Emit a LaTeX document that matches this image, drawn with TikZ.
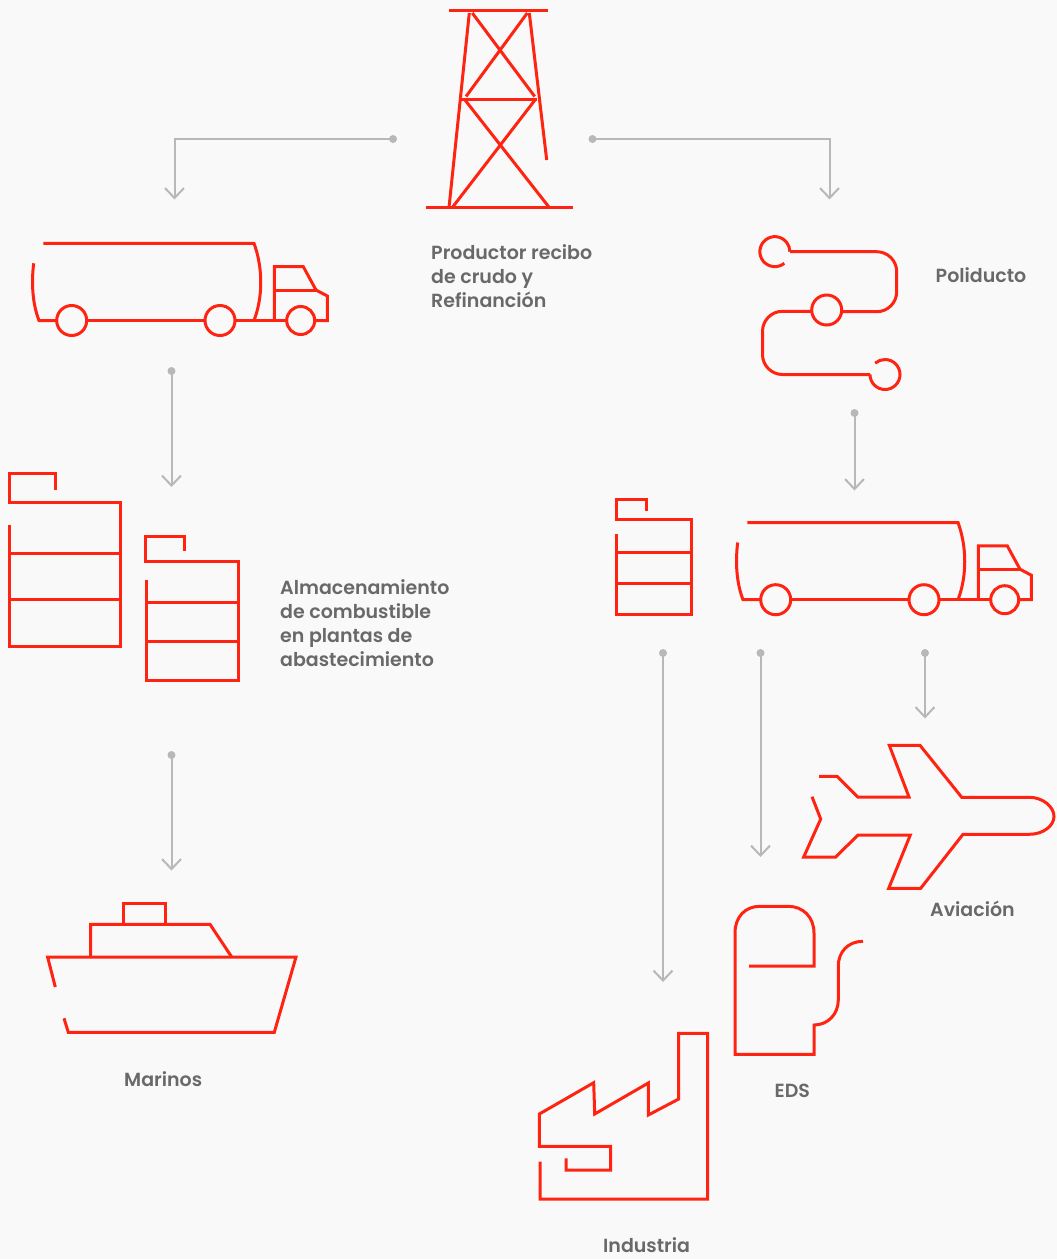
\documentclass[tikz,border=0pt]{standalone}
\usepackage{fontspec}
\setmainfont{Poppins}[UprightFont=* SemiBold]
\usetikzlibrary{arrows.meta}
\definecolor{bgc}{HTML}{F9F9F9}
\definecolor{ico}{HTML}{FF2412}
\definecolor{con}{HTML}{B8B8B8}
\definecolor{txt}{HTML}{696969}
\tikzset{
  icon/.style={draw=ico,line width=3pt,line join=miter,line cap=butt},
  conn/.style={draw=con,line width=2pt,-{Straight Barb[length=10pt,width=19pt,line width=2pt]}},
  startdot/.style={circle,fill=con,draw=none,minimum size=8pt,inner sep=0pt},
  lbl/.style={text=txt,font=\fontsize{19pt}{24pt}\selectfont,align=left,anchor=north west,inner sep=0pt}
}
\newcommand{\tankertruck}{%
    \draw[icon] (43.3,243.3) -- (254,243.3) .. controls (263,268) and (263,297) .. (254,320.5);
    \draw[icon] (33.7,263.3) .. controls (31,285) and (33,305) .. (39,320.5) -- (56.7,320.5);
    \draw[icon,line width=3.4pt] (86.7,320.5) -- (205,320.5);
    \draw[icon] (235,320.5) -- (286.7,320.5);
    \draw[icon] (71.7,320.5) circle[radius=15];
    \draw[icon] (220,320.5) circle[radius=15];
    \draw[icon] (300.7,320.5) circle[radius=14];
    \draw[icon] (274.3,320.5) -- (274.3,266.7) -- (303.3,266.7) -- (316,290) -- (327.3,296) -- (327.3,320.5) -- (314.7,320.5);
    \draw[icon] (274.3,290) -- (316,290);
}
\begin{document}
\begin{tikzpicture}[x=1pt,y=1pt,yscale=-1]
\useasboundingbox (0,0) rectangle (1057,1259);
\fill[bgc] (0,0) rectangle (1057,1259);

% tower
\draw[icon] (449,10) -- (548,10);
\draw[icon] (469.3,13) -- (449,207.5);
\draw[icon] (529.3,13) -- (546.7,160);
\draw[icon] (472.3,13) -- (534.7,96.5);
\draw[icon] (527.3,13) -- (466,96.5);
\draw[icon,line width=3.4pt] (460.7,99.3) -- (537,99.3);
\draw[icon] (465,100) -- (549.3,207.5);
\draw[icon] (535,100) -- (452.3,207.5);
\draw[icon] (426,207.5) -- (572.7,207.5);
\draw[icon,line width=3.4pt] (449,207.5) -- (549.3,207.5);

% left truck, right truck
\begin{scope}\tankertruck\end{scope}
\begin{scope}[shift={(704,279.2)}]\tankertruck\end{scope}

% poliducto
\draw[icon] (784.3,263.3) arc[start angle=51,end angle=360,radius=15];
\draw[icon,rounded corners=20pt] (790,251.7) -- (896.7,251.7) -- (896.7,311.7) -- (841.7,311.7);
\draw[icon] (826.7,310) circle[radius=15];
\draw[icon,rounded corners=20pt] (811.7,311.3) -- (762.5,311.3) -- (762.5,374.5) -- (870,374.5);
\draw[icon] (870,374.5) arc[start angle=180,end angle=-131,radius=15];

% tanks
\draw[icon] (55.3,490) -- (55.3,473) -- (9.3,473) -- (9.3,502.7) -- (120.7,502.7) -- (120.7,646.3) -- (9.7,646.3) -- (9.7,525);
\draw[icon] (9.7,553) -- (120.7,553);
\draw[icon] (9.7,599.3) -- (120.7,599.3);
\draw[icon] (184,551) -- (184,536.3) -- (145.3,536.3) -- (145.3,561.3) -- (238.7,561.3) -- (238.7,680.7) -- (146.3,680.7) -- (146.3,579.7);
\draw[icon] (146.3,602.7) -- (238.7,602.7);
\draw[icon] (146.3,641.7) -- (238.7,641.7);
\draw[icon] (646.7,510.7) -- (646.7,499.3) -- (616.3,499.3) -- (616.3,519.3) -- (691,519.3) -- (691,614.7) -- (616.3,614.7) -- (616.3,534);
\draw[icon] (616.3,552.3) -- (691,552.3);
\draw[icon] (616.3,583.7) -- (691,583.7);

% ship
\draw[icon] (55.3,987) -- (47.6,957) -- (296,957) -- (274.3,1032.3) -- (68.3,1032.3) -- (64,1018.3);
\draw[icon] (90.7,957) -- (90.7,924.3) -- (210,924.3) -- (231.7,957);
\draw[icon] (123.3,924.3) -- (123.3,903) -- (165.7,903) -- (165.7,924.3);

% plane
\draw[icon] (819,776.3) -- (837,776.3) -- (857.7,797) -- (909,797) -- (889.3,745.3) -- (920,745.3) -- (961.7,797.3) -- (1029.3,797.3)
  .. controls (1043,797.3) and (1054,807) .. (1054,816.3) .. controls (1054,826) and (1043,834.3) .. (1029.3,834.3)
  -- (963,834.3) -- (920.7,888.3) -- (888.7,888.3) -- (910.3,835) -- (858,835) -- (835.7,857) -- (803.7,857) -- (820.7,819) -- (812,796.7);

% EDS
\draw[icon] (749,966) -- (814,966) -- (814,933) .. controls (814,917) and (803,906.3) .. (788,906.3) -- (760,906.3)
  .. controls (745,906.3) and (735,917) .. (735,933) -- (735,1054.3) -- (814,1054.3) -- (814,1025)
  .. controls (828,1025) and (838.3,1014) .. (838.3,1000) -- (838.3,966) .. controls (838.3,952) and (848,941.3) .. (863,941.3);

% factory
\draw[icon] (540,1161.7) -- (540,1199) -- (707.7,1199) -- (707.7,1033.3) -- (678.7,1033.3) -- (678.7,1099) -- (648.3,1115) -- (648.3,1083) -- (594.7,1114) -- (593.7,1082.7) -- (539.3,1114) -- (539.3,1146.3) -- (610.7,1146.3) -- (610.7,1170) -- (566,1170) -- (566,1158.3);

% connectors
\node[startdot] (d1) at (393,139) {};
\coordinate (e1) at (174.5,199.5);
\draw[conn] (d1.center) -| (e1);
\node[startdot] (d2) at (592.5,139) {};
\coordinate (e2) at (829.5,199.5);
\draw[conn] (d2.center) -| (e2);
\node[startdot] (d3) at (171.5,371) {};
\coordinate (e3) at (171.5,487);
\draw[conn] (d3.center) -- (e3);
\node[startdot] (d4) at (171.5,755) {};
\coordinate (e4) at (171.5,870.5);
\draw[conn] (d4.center) -- (e4);
\node[startdot] (d5) at (854.5,413) {};
\coordinate (e5) at (854.5,490.5);
\draw[conn] (d5.center) -- (e5);
\node[startdot] (d6) at (663,653) {};
\coordinate (e6) at (663,982);
\draw[conn] (d6.center) -- (e6);
\node[startdot] (d7) at (760.5,653) {};
\coordinate (e7) at (760.5,857);
\draw[conn] (d7.center) -- (e7);
\node[startdot] (d8) at (925,653) {};
\coordinate (e8) at (925,718.5);
\draw[conn] (d8.center) -- (e8);

% labels
\node[lbl] (productor) at (431,244.5) {Productor recibo\\de crudo y\\Refinanción};
\node[lbl] (poliducto) at (935.5,267) {Poliducto};
\node[lbl] (almacen) at (280,579) {Almacenamiento\\de combustible\\en plantas de\\abastecimiento};
\node[lbl] (marinos) at (124,1071) {Marinos};
\node[lbl] (aviacion) at (930,901) {Aviación};
\node[lbl] (eds) at (774.5,1083.5) {EDS};
\node[lbl] (industria) at (603,1237) {Industria};
\end{tikzpicture}
\end{document}
